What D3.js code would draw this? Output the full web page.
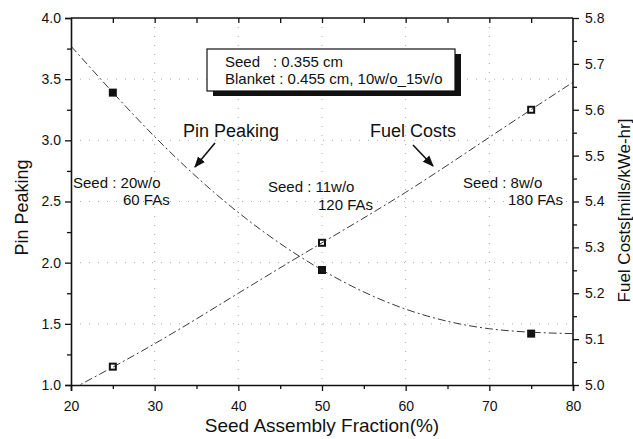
<!DOCTYPE html>
<html>
<head>
<meta charset="utf-8">
<script src="https://cdn.jsdelivr.net/npm/d3@7"></script>
<style>
  body { margin: 0; background: #fff; }
  text { font-family: "Liberation Sans", Arial, sans-serif; fill: #111; }
</style>
</head>
<body>
<div id="chart"></div>
<script>
// données
const fractions = [25, 50, 75];
const pinPeaking = [3.39, 1.94, 1.42];
const fuelCosts = [5.04, 5.31, 5.60];

// courbes d'ajustement
const fitX = [20, 30, 40, 50, 60, 70, 80];
const pinFit = [3.77, 3.03, 2.41, 1.94, 1.62, 1.46, 1.42];
const fuelFit = [4.99, 5.09, 5.20, 5.31, 5.42, 5.54, 5.66];

const xTicks = [20, 30, 40, 50, 60, 70, 80];
const leftTicks = [1.0, 1.5, 2.0, 2.5, 3.0, 3.5, 4.0];
const rightTicks = [5.0, 5.1, 5.2, 5.3, 5.4, 5.5, 5.6, 5.7, 5.8];

const W = 633, H = 439;
const margin = {top: 18, right: 60, bottom: 54, left: 71};
const width = W - margin.left - margin.right;
const height = H - margin.top - margin.bottom;

const svg = d3.select('#chart').append('svg')
  .attr('width', W).attr('height', H);

const g = svg.append('g').attr('transform', `translate(${margin.left},${margin.top})`);

const x = d3.scaleLinear().domain([20, 80]).range([0, width]);
const yL = d3.scaleLinear().domain([1, 4]).range([height, 0]);
const yR = d3.scaleLinear().domain([5, 5.8]).range([height, 0]);

const defs = svg.append('defs');
defs.append('clipPath').attr('id', 'clip')
  .append('rect').attr('x', margin.left).attr('y', margin.top).attr('width', width).attr('height', height);

// grille pointillée
g.append('g').selectAll('line')
  .data(xTicks.slice(1, -1))
  .join('line')
  .attr('x1', d => x(d)).attr('x2', d => x(d))
  .attr('y1', 0).attr('y2', height)
  .attr('stroke', '#aaa').attr('stroke-width', 1).attr('stroke-dasharray', '1,8');
g.append('g').selectAll('line')
  .data(leftTicks.slice(1, -1))
  .join('line')
  .attr('y1', d => yL(d)).attr('y2', d => yL(d))
  .attr('x1', 0).attr('x2', width)
  .attr('stroke', '#aaa').attr('stroke-width', 1).attr('stroke-dasharray', '1,8');

// axes
const axB = g.append('g').attr('transform', `translate(0,${height})`)
  .call(d3.axisBottom(x).tickValues(xTicks).tickFormat(d3.format('d')).tickSize(6).tickPadding(10));
const axBm = g.append('g').attr('transform', `translate(0,${height})`)
  .call(d3.axisBottom(x).tickValues(d3.range(25, 80, 10)).tickFormat('').tickSize(4));
const axT = g.append('g')
  .call(d3.axisTop(x).tickValues(d3.range(25, 80, 5)).tickFormat('').tickSize(-5));
const axL = g.append('g')
  .call(d3.axisLeft(yL).tickValues(leftTicks).tickFormat(d3.format('.1f')).tickSize(6).tickPadding(4));
const axLm = g.append('g')
  .call(d3.axisLeft(yL).tickValues(d3.range(1.25, 4, 0.5)).tickFormat('').tickSize(4));
const axR = g.append('g').attr('transform', `translate(${width},0)`)
  .call(d3.axisRight(yR).tickValues(rightTicks).tickFormat(d3.format('.1f')).tickSize(6).tickPadding(6));
const axRm = g.append('g').attr('transform', `translate(${width},0)`)
  .call(d3.axisRight(yR).tickValues(d3.range(5.05, 5.8, 0.1)).tickFormat('').tickSize(4));

[axB, axBm, axT, axL, axLm, axR, axRm].forEach(a => {
  a.selectAll('.domain').attr('stroke', '#111').attr('stroke-width', 1.6);
  a.selectAll('.tick line').attr('stroke', '#111').attr('stroke-width', 1.3);
  a.selectAll('text').style('font-size', '14px').attr('fill', '#111');
});
axT.select('.domain').attr('d', `M0,0H${width}`);
axR.select('.domain').attr('d', `M0,0V${height}`);
axRm.select('.domain').remove();
axBm.select('.domain').remove();
axLm.select('.domain').remove();

// courbes
const plot = svg.append('g').attr('clip-path', 'url(#clip)')
  .append('g').attr('transform', `translate(${margin.left},${margin.top})`);

const linePin = d3.line().x((d, i) => x(fitX[i])).y(d => yL(d)).curve(d3.curveNatural);
const lineFuel = d3.line().x((d, i) => x(fitX[i])).y(d => yR(d)).curve(d3.curveNatural);

plot.append('path').datum(pinFit).attr('d', linePin)
  .attr('fill', 'none').attr('stroke', '#222').attr('stroke-width', 0.9).attr('stroke-dasharray', '8,3,2,3');
plot.append('path').datum(fuelFit).attr('d', lineFuel)
  .attr('fill', 'none').attr('stroke', '#222').attr('stroke-width', 0.9).attr('stroke-dasharray', '8,3,2,3');

// marqueurs
const s = 8;
g.selectAll('rect.pin')
  .data(fractions)
  .join('rect')
  .attr('class', 'pin')
  .attr('x', d => x(d) - s / 2)
  .attr('y', (d, i) => yL(pinPeaking[i]) - s / 2)
  .attr('width', s).attr('height', s)
  .attr('fill', '#111');
g.selectAll('rect.fuel')
  .data(fractions)
  .join('rect')
  .attr('class', 'fuel')
  .attr('x', d => x(d) - s / 2 + 1)
  .attr('y', (d, i) => yR(fuelCosts[i]) - s / 2 + 1)
  .attr('width', s - 2).attr('height', s - 2)
  .attr('fill', '#fff').attr('stroke', '#111').attr('stroke-width', 2);

// titres des axes
svg.append('text')
  .attr('x', margin.left + width / 2).attr('y', 432)
  .attr('text-anchor', 'middle').style('font-size', '19px')
  .text('Seed Assembly Fraction(%)');
svg.append('text')
  .attr('transform', `translate(28,${margin.top + height / 2 + 6}) rotate(-90)`)
  .attr('text-anchor', 'middle').style('font-size', '18px')
  .text('Pin Peaking');
svg.append('text')
  .attr('transform', `translate(630,${margin.top + height / 2 + 9}) rotate(-90)`)
  .attr('text-anchor', 'middle').style('font-size', '17px')
  .text('Fuel Costs[mills/kWe-hr]');

// encadré
svg.append('rect').attr('x', 213).attr('y', 54).attr('width', 248).attr('height', 42).attr('fill', '#111');
svg.append('rect').attr('x', 207).attr('y', 49).attr('width', 248).attr('height', 42)
  .attr('fill', '#fff').attr('stroke', '#111').attr('stroke-width', 1.2);
const leg1 = svg.append('text').attr('x', 225).attr('y', 67).style('font-size', '15px');
leg1.append('tspan').text('Seed');
leg1.append('tspan').attr('x', 273).text(': 0.355 cm');
svg.append('text').attr('x', 225).attr('y', 84).style('font-size', '15px')
  .text('Blanket : 0.455 cm, 10w/o_15v/o');

// annotations
const notes = [
  {t: 'Pin Peaking', x: 183, y: 137, fs: 18},
  {t: 'Fuel Costs', x: 370, y: 137, fs: 18},
  {t: 'Seed : 20w/o', x: 73, y: 188, fs: 15},
  {t: '60 FAs', x: 123, y: 205, fs: 15},
  {t: 'Seed : 11w/o', x: 268, y: 192, fs: 15},
  {t: '120 FAs', x: 318, y: 210, fs: 15},
  {t: 'Seed : 8w/o', x: 463, y: 188, fs: 15},
  {t: '180 FAs', x: 508, y: 205, fs: 15}
];
svg.selectAll('text.note')
  .data(notes)
  .join('text')
  .attr('class', 'note')
  .attr('x', d => d.x).attr('y', d => d.y)
  .style('font-size', d => d.fs + 'px')
  .text(d => d.t);

// flèches
defs.append('marker').attr('id', 'arrow')
  .attr('viewBox', '0 0 10 10').attr('refX', 9).attr('refY', 5)
  .attr('markerWidth', 7).attr('markerHeight', 7).attr('orient', 'auto')
  .append('path').attr('d', 'M0,1 L10,5 L0,9 Z').attr('fill', '#111');
const arrows = [[215, 143, 195, 167], [413, 145, 433, 166]];
svg.selectAll('line.arrow')
  .data(arrows)
  .join('line')
  .attr('class', 'arrow')
  .attr('x1', d => d[0]).attr('y1', d => d[1])
  .attr('x2', d => d[2]).attr('y2', d => d[3])
  .attr('stroke', '#111').attr('stroke-width', 1.6)
  .attr('marker-end', 'url(#arrow)');
</script>
</body>
</html>
